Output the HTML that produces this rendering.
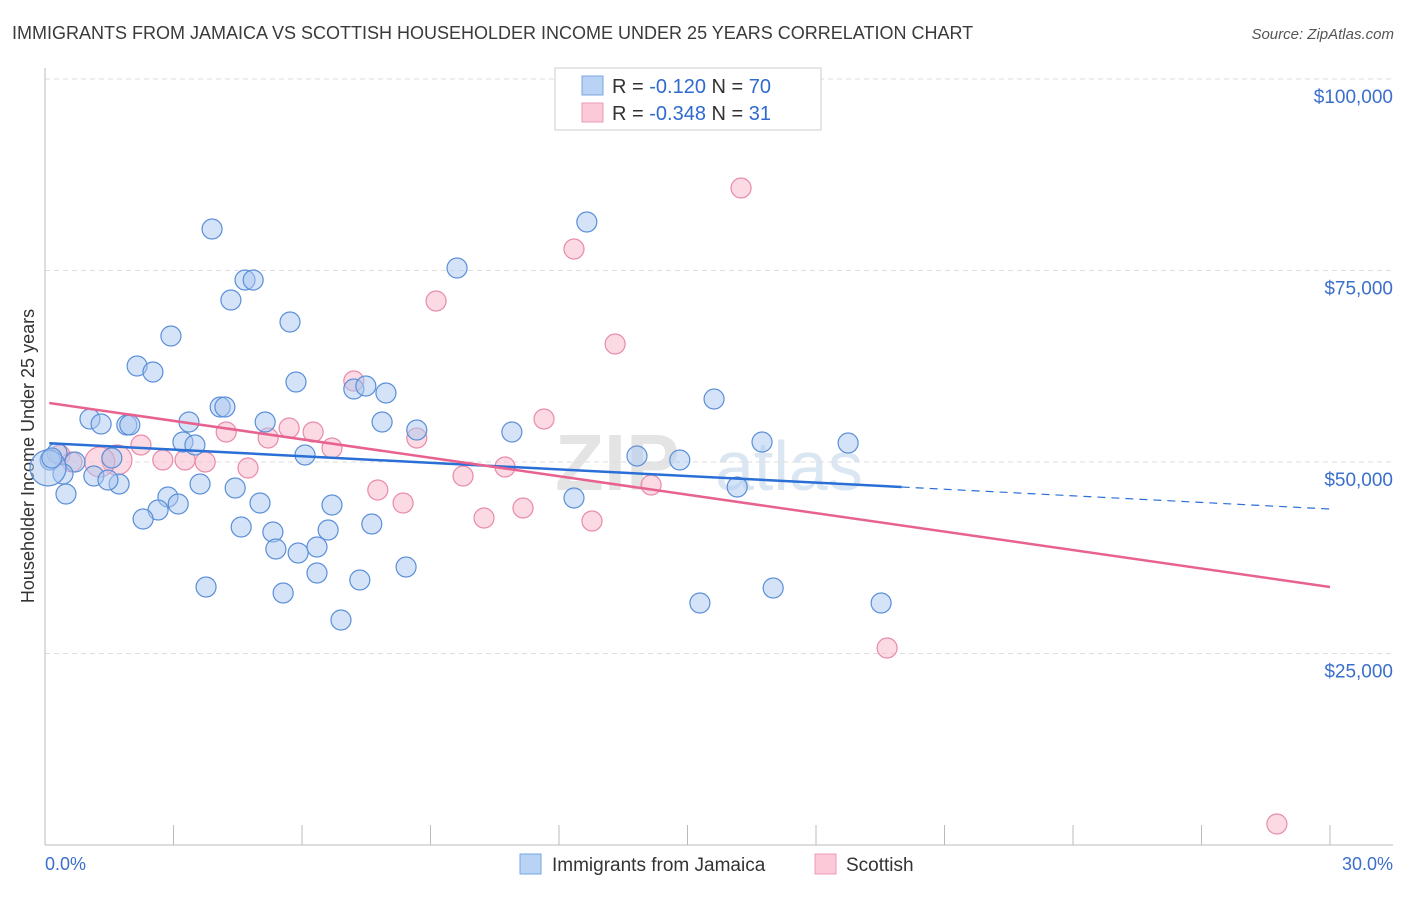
<!DOCTYPE html>
<html><head><meta charset="utf-8"><style>
body{margin:0;background:#fff;font-family:"Liberation Sans",sans-serif;}
svg text{font-family:"Liberation Sans",sans-serif;}
</style></head><body>
<svg id="chart" width="1406" height="892" viewBox="0 0 1406 892">
<text x="12" y="39" font-size="18" fill="#3a3a3a">IMMIGRANTS FROM JAMAICA VS SCOTTISH HOUSEHOLDER INCOME UNDER 25 YEARS CORRELATION CHART</text>
<text x="1394" y="39" font-size="15" fill="#555" font-style="italic" text-anchor="end">Source: ZipAtlas.com</text>
<text x="555" y="490" font-size="80" fill="#e4e4e4" font-family="Liberation Serif" font-weight="bold">ZIP</text>
<text x="715" y="490" font-size="70" fill="#dbe6f3">atlas</text>
<g id="grid"></g>
<line x1="45" y1="68" x2="45" y2="845" stroke="#bbb"/>
<line x1="45" y1="845" x2="1393" y2="845" stroke="#bbb"/>
<g id="xticks"></g>
<text transform="translate(34,456) rotate(-90)" font-size="18" fill="#333" text-anchor="middle">Householder Income Under 25 years</text>
<text x="45" y="870" font-size="18" fill="#3a6fcc">0.0%</text>
<text x="1393" y="870" font-size="18" fill="#3a6fcc" text-anchor="end">30.0%</text>
<g id="pts"></g>
<g id="lines"></g>
<g>
<rect x="555" y="68" width="266" height="62" fill="#fff" stroke="#ccc"/>
<rect x="582" y="76" width="21" height="19" fill="#b9d3f5" stroke="#7aa6e3"/>
<rect x="582" y="103" width="21" height="19" fill="#fbc9d8" stroke="#ee9ab5"/>
<text x="612" y="93" font-size="20" fill="#333">R =  <tspan fill="#2f6ad0">-0.120</tspan>    N = <tspan fill="#2f6ad0">70</tspan></text>
<text x="612" y="120" font-size="20" fill="#333">R = <tspan fill="#2f6ad0">-0.348</tspan>    N =  <tspan fill="#2f6ad0">31</tspan></text>
</g>
<g>
<rect x="520" y="854" width="21" height="20" fill="#b9d3f5" stroke="#7aa6e3"/>
<text x="552" y="871" font-size="19" fill="#333">Immigrants from Jamaica</text>
<rect x="815" y="854" width="21" height="20" fill="#fbc9d8" stroke="#ee9ab5"/>
<text x="846" y="871" font-size="19" fill="#333">Scottish</text>
</g>
</svg>
<script>
const yTicks=[25000,50000,75000,100000];
const yTickLabels=["$25,000","$50,000","$75,000","$100,000"];
const xTicks=[0,3,6,9,12,15,18,21,24,27,30];
const bluePx=[[212,229],[245,280],[253,280],[231,300],[290,322],[171,336],[137,366],[153,372],[296,382],[354,389],[366,386],[386,393],[220,407],[225,407],[189,422],[265,422],[382,422],[90,419],[101,424],[127,425],[130,425],[417,430],[512,432],[183,442],[195,445],[305,455],[57,453],[50,460],[75,462],[112,458],[63,474],[94,476],[119,484],[108,480],[200,484],[235,488],[66,494],[168,497],[178,504],[158,510],[143,519],[260,503],[332,505],[241,527],[273,532],[328,530],[372,524],[317,547],[276,549],[298,553],[406,567],[317,573],[360,580],[206,587],[283,593],[341,620],[457,268],[587,222],[574,498],[637,456],[680,460],[714,399],[737,487],[762,442],[848,443],[700,603],[773,588],[881,603],[48,468],[52,458]];
const pinkPx=[[741,188],[574,249],[436,301],[615,344],[354,381],[544,419],[226,432],[289,428],[313,432],[268,438],[417,438],[141,445],[332,448],[60,455],[72,462],[117,460],[163,460],[185,460],[205,462],[248,468],[463,476],[505,467],[378,490],[403,503],[651,485],[523,508],[484,518],[592,521],[887,648],[1277,824],[100,462]];
// convert read pixel positions to data values (x in %, y in $)
const blueX=bluePx.map(p=>+((p[0]-45)/1285*30).toFixed(2));
const blueY=bluePx.map(p=>Math.round((845-p[1])/766*100000));
const pinkX=pinkPx.map(p=>+((p[0]-45)/1285*30).toFixed(2));
const pinkY=pinkPx.map(p=>Math.round((845-p[1])/766*100000));
const blueTrend=[52480,43860];
const pinkTrend=[57700,33680];
const blueSolidEnd=20;
const xs=v=>45+v/30*1285;
const ys=v=>845-v/100000*766;
const NS="http://www.w3.org/2000/svg";
function mk(t,a,parent){const e=document.createElementNS(NS,t);for(const k in a)e.setAttribute(k,a[k]);parent.appendChild(e);return e;}
const grid=document.getElementById('grid');
yTicks.forEach((v,i)=>{
 const l=mk('line',{x1:45,x2:1393,y1:ys(v),y2:ys(v),stroke:'#ddd','stroke-dasharray':'5,4'},grid);
 
 
 const t=mk('text',{x:1393,y:ys(v)+24,'font-size':19,fill:'#3a6fcc','text-anchor':'end'},grid);
 t.textContent=yTickLabels[i];
 
 
});
const xt=document.getElementById('xticks');
xTicks.forEach(v=>{
 const l=mk('line',{x1:xs(v),x2:xs(v),y1:825,y2:845,stroke:'#bbb'},xt);
 
 
});
const pts=document.getElementById('pts');
function drawPts(X,Y,fill,stroke,name){
 X.forEach((x,i)=>{
  let r=10;
  if(name==='blue-point'&&i===X.length-2)r=18;
  if(name==='pink-point'&&(i===X.length-1||i===15))r=15;
  const c=mk('circle',{cx:xs(x),cy:ys(Y[i]),r:r,fill:fill,'fill-opacity':0.5,stroke:stroke,'stroke-width':1.2},pts);
  
  
 });
}
drawPts(pinkX,pinkY,'#f7b6ca','#e98aab','pink-point');
drawPts(blueX,blueY,'#a9c8f0','#5b8fd9','blue-point');
const lines=document.getElementById('lines');
const bAt=x=>blueTrend[0]+(blueTrend[1]-blueTrend[0])*x/30;
let l1=mk('line',{x1:xs(0.1),y1:ys(bAt(0.1)),x2:xs(blueSolidEnd),y2:ys(bAt(blueSolidEnd)),stroke:'#2a6fd6','stroke-width':2.5},lines);


let l2=mk('line',{x1:xs(blueSolidEnd),y1:ys(bAt(blueSolidEnd)),x2:xs(30),y2:ys(bAt(30)),stroke:'#2a6fd6','stroke-width':1.2,'stroke-dasharray':'8,6'},lines);


let l3=mk('line',{x1:xs(0.1),y1:ys(pinkTrend[0]),x2:xs(30),y2:ys(pinkTrend[1]),stroke:'#e8628f','stroke-width':2.5},lines);


</script>
</body></html>
